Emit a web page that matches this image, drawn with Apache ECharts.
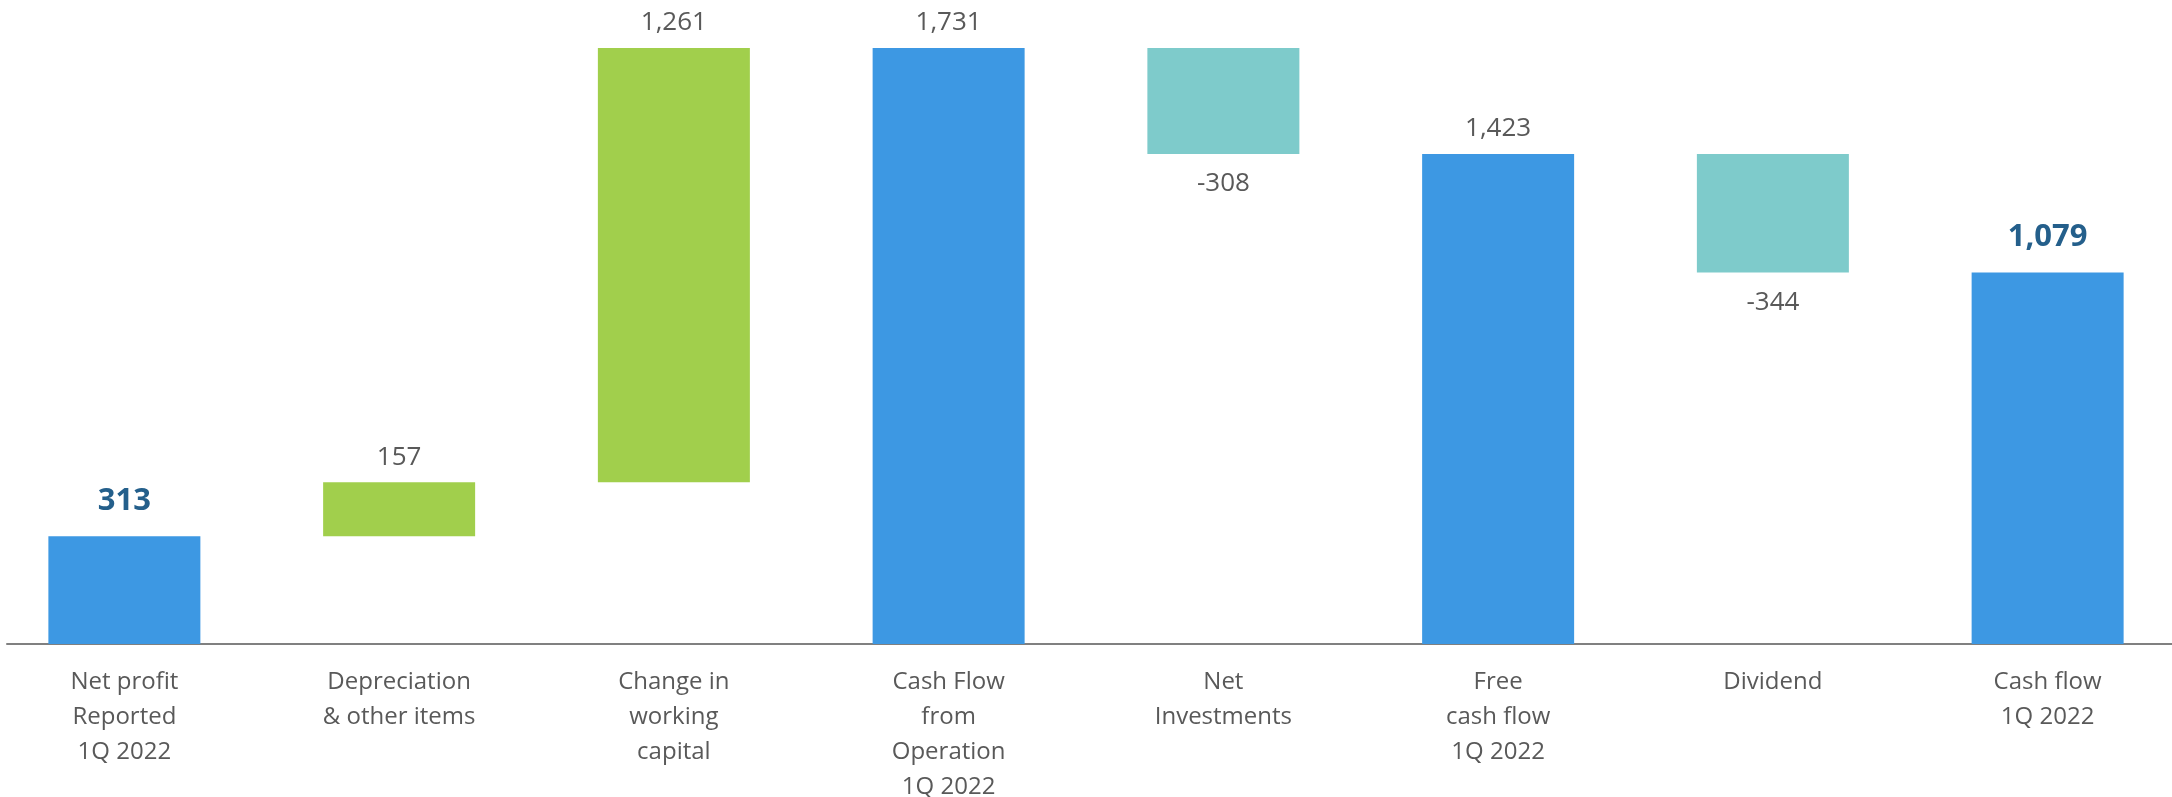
<!DOCTYPE html>
<html>
<head>
<meta charset="utf-8">
<script src="https://cdn.jsdelivr.net/npm/echarts@6/dist/echarts.min.js"></script>
<style>
  html, body { margin: 0; padding: 0; background: #fff; }
  #main { width: 2172px; height: 797px; }
</style>
</head>
<body>
<div id="main"></div>
<script>
// categories and read values (mln)
const categories = [
  'Net profit\nReported\n1Q 2022',
  'Depreciation\n& other items',
  'Change in\nworking\ncapital',
  'Cash Flow\nfrom\nOperation\n1Q 2022',
  'Net\nInvestments',
  'Free\ncash flow\n1Q 2022',
  'Dividend',
  'Cash flow\n1Q 2022'
];
const values = [313, 157, 1261, 1731, -308, 1423, -344, 1079];
// 'total' bars start at zero, 'delta' bars float on the running total
const kinds = ['total', 'delta', 'delta', 'total', 'delta', 'total', 'delta', 'total'];
const highlighted = [true, false, false, false, false, false, false, true];

const colors = { total: '#3d98e3', up: '#a1cf4c', down: '#7ecbcb' };

// waterfall: invisible base + visible part
const baseData = [];
const barData = [];
let running = 0;
values.forEach((v, i) => {
  if (kinds[i] === 'total') {
    running = v;
    baseData.push(0);
    barData.push({ value: v, kind: 'total' });
  } else if (v >= 0) {
    baseData.push(running);
    running += v;
    barData.push({ value: v, kind: 'up' });
  } else {
    running += v;
    baseData.push(running);
    barData.push({ value: -v, kind: 'down' });
  }
});

const seriesData = barData.map((d, i) => {
  const neg = values[i] < 0;
  const bold = highlighted[i];
  return {
    value: d.value,
    itemStyle: { color: colors[d.kind] },
    label: {
      position: neg ? 'bottom' : 'top',
      distance: bold ? 20 : (neg ? 17 : 12),
      fontSize: bold ? 31 : 26,
      fontWeight: bold ? 'bold' : 'normal',
      color: bold ? '#245f8b' : '#595959'
    }
  };
});

const myChart = echarts.init(document.getElementById('main'));
myChart.setOption({
  animation: false,
  textStyle: { fontFamily: 'Open Sans' },
  grid: [
    { left: -13, right: -13, top: 48, bottom: 153, outerBoundsMode: 'none', containLabel: false },
    { left: 7, right: 0, top: 48, bottom: 153, outerBoundsMode: 'none', containLabel: false }
  ],
  xAxis: [
    {
      type: 'category',
      gridIndex: 0,
      data: categories,
      axisLine: { show: false },
      axisTick: { show: false },
      axisLabel: {
        interval: 0,
        margin: 21,
        fontSize: 24,
        lineHeight: 35,
        color: '#595959',
        fontFamily: 'Open Sans'
      }
    },
    {
      type: 'category',
      gridIndex: 1,
      data: [''],
      axisLine: { show: true, lineStyle: { color: '#808080', width: 2 } },
      axisTick: { show: false },
      axisLabel: { show: false }
    }
  ],
  yAxis: [
    { type: 'value', gridIndex: 0, min: 0, max: 1731, show: false },
    { type: 'value', gridIndex: 1, min: 0, max: 1, show: false }
  ],
  series: [
    {
      type: 'bar',
      stack: 'flow',
      barWidth: 152,
      data: baseData,
      itemStyle: { color: 'transparent' },
      emphasis: { disabled: true },
      silent: true
    },
    {
      type: 'bar',
      stack: 'flow',
      barWidth: 152,
      data: seriesData,
      label: {
        show: true,
        fontFamily: 'Open Sans',
        formatter: (p) => values[p.dataIndex].toLocaleString('en-US')
      }
    }
  ]
});
</script>
</body>
</html>
